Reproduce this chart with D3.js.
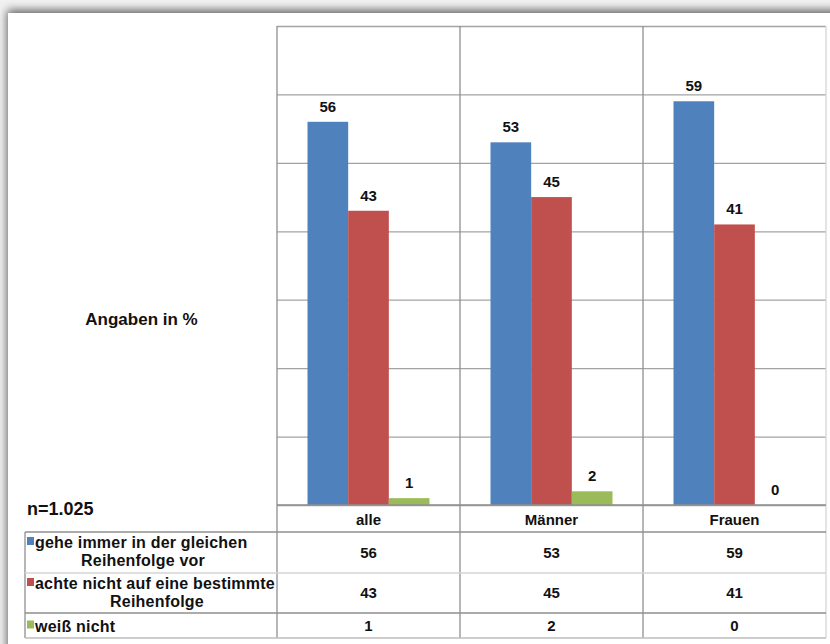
<!DOCTYPE html>
<html>
<head>
<meta charset="utf-8">
<script src="https://cdn.jsdelivr.net/npm/d3@7/dist/d3.min.js"></script>
<style>
  html, body { margin: 0; padding: 0; background: #ffffff; }
  svg { display: block; }
  text { font-family: "Liberation Sans", Arial, sans-serif; font-weight: bold; fill: #111; }
</style>
</head>
<body>
<svg id="chart" width="830" height="644"></svg>
<script>
// Survey groups and answer shares (percent)
const categories = ["alle", "Männer", "Frauen"];
const gleicheReihenfolge = [56, 53, 59];
const keineReihenfolge = [43, 45, 41];
const weissNicht = [1, 2, 0];
const seriesLabels = [
  ["gehe immer in der gleichen", "Reihenfolge vor"],
  ["achte nicht auf eine bestimmte", "Reihenfolge"],
  ["weiß nicht"]
];
const seriesColors = ["#4f81bd", "#c0504d", "#9bbb59"];
const yTicks = [0, 10, 20, 30, 40, 50, 60, 70];
const unitNote = "Angaben in %";
const sampleNote = "n=1.025";

const series = [gleicheReihenfolge, keineReihenfolge, weissNicht];

const svg = d3.select("#chart");

// Card with a soft shadow on the top and left edges
const defs = svg.append("defs");
const f = defs.append("filter").attr("id", "shadow")
  .attr("filterUnits", "userSpaceOnUse")
  .attr("x", -30).attr("y", -30).attr("width", 920).attr("height", 740);
f.append("feDropShadow").attr("dx", -1).attr("dy", -3)
  .attr("stdDeviation", 5).attr("flood-color", "#000").attr("flood-opacity", 0.6);
svg.append("rect").attr("x", 0).attr("y", 0).attr("width", 830).attr("height", 644).attr("fill", "#f2f2f2");
svg.append("rect").attr("x", 8).attr("y", 13).attr("width", 860).attr("height", 680)
  .attr("fill", "#fff").attr("filter", "url(#shadow)");

// Layout
const plotLeft = 277, plotRight = 826, plotTop = 26, baseY = 505;
const tableLeft = 25;
const headerBottom = 532;
const rowBounds = [[532, 573], [573, 613], [613, 638]];
const tableBottom = 638;

const x0 = d3.scaleBand().domain(categories).range([plotLeft, plotRight]).padding(0);
const x1 = d3.scaleBand().domain(d3.range(series.length)).range([0, x0.bandwidth()])
  .paddingInner(0).paddingOuter(0.75);
const y = d3.scaleLinear().domain([0, 70]).range([baseY, plotTop]);

const gridColor = "#a3a3a3";

// Horizontal gridlines via an axis
const gridAxis = d3.axisLeft(y).tickValues(yTicks).tickSize(-(plotRight - plotLeft)).tickFormat("");
const gridG = svg.append("g").attr("transform", `translate(${plotLeft},0)`).call(gridAxis);
gridG.select(".domain").remove();
gridG.selectAll(".tick line").attr("stroke", gridColor).attr("stroke-width", 1.3);

// Bars
const groups = svg.append("g").selectAll("g")
  .data(categories).join("g")
  .attr("transform", d => `translate(${x0(d)},0)`);

groups.selectAll("rect")
  .data((c, ci) => series.map((s, si) => ({ si, v: s[ci] })))
  .join("rect")
  .attr("x", d => x1(d.si))
  .attr("width", x1.bandwidth())
  .attr("y", d => y(d.v))
  .attr("height", d => baseY - y(d.v))
  .attr("fill", d => seriesColors[d.si]);

groups.selectAll("text.val")
  .data((c, ci) => series.map((s, si) => ({ si, v: s[ci] })))
  .join("text")
  .attr("class", "val")
  .attr("x", d => x1(d.si) + x1.bandwidth() / 2)
  .attr("y", d => y(d.v) - 10)
  .attr("text-anchor", "middle")
  .attr("font-size", 15)
  .text(d => d.v);

// Table lines
const lines = svg.append("g");
const boundaries = categories.map(c => x0(c)).concat([plotRight]);
boundaries.forEach((bx, i) => {
  lines.append("line").attr("x1", bx).attr("x2", bx)
    .attr("y1", plotTop).attr("y2", tableBottom)
    .attr("stroke", i === boundaries.length - 1 ? "#d6d6d6" : "#8f8f8f").attr("stroke-width", 1.3);
});
lines.append("line").attr("x1", tableLeft).attr("x2", tableLeft)
  .attr("y1", headerBottom).attr("y2", tableBottom).attr("stroke", "#8f8f8f").attr("stroke-width", 1.3);
[[baseY, plotLeft, "#8f8f8f"], [headerBottom, tableLeft, "#8f8f8f"], [rowBounds[1][0], tableLeft, "#d4d4d4"],
 [rowBounds[2][0], tableLeft, "#8f8f8f"], [tableBottom, tableLeft, "#bdbdbd"]].forEach(([ly, lx, col]) => {
  lines.append("line").attr("x1", lx).attr("x2", plotRight).attr("y1", ly).attr("y2", ly)
    .attr("stroke", col).attr("stroke-width", 1.3);
});

// Category headers
svg.append("g").selectAll("text").data(categories).join("text")
  .attr("x", d => x0(d) + x0.bandwidth() / 2)
  .attr("y", 525)
  .attr("text-anchor", "middle")
  .attr("font-size", 15)
  .text(d => d);

// Value cells
series.forEach((s, si) => {
  const [r0, r1] = rowBounds[si];
  svg.append("g").selectAll("text").data(categories).join("text")
    .attr("x", d => x0(d) + x0.bandwidth() / 2)
    .attr("y", (r0 + r1) / 2 + 5)
    .attr("text-anchor", "middle")
    .attr("font-size", 15)
    .text((d, ci) => s[ci]);
});

// Legend cells
const legendMid = [143, 157];
seriesLabels.forEach((lbl, si) => {
  const [r0, r1] = rowBounds[si];
  const firstBase = lbl.length > 1 ? r0 + 16 : (r0 + r1) / 2 + 6;
  svg.append("rect").attr("x", 27).attr("y", firstBase - 11).attr("width", 7).attr("height", 8)
    .attr("fill", seriesColors[si]);
  svg.append("text").attr("x", 35).attr("y", firstBase)
    .attr("font-size", 16).attr("letter-spacing", 0.2).text(lbl[0]);
  if (lbl.length > 1) {
    svg.append("text").attr("x", legendMid[si]).attr("y", firstBase + 18)
      .attr("text-anchor", "middle").attr("font-size", 16).attr("letter-spacing", 0.2).text(lbl[1]);
  }
});

// Notes
svg.append("text").attr("x", 141.5).attr("y", 325).attr("text-anchor", "middle")
  .attr("font-size", 17).text(unitNote);
svg.append("text").attr("x", 27).attr("y", 515).attr("font-size", 18).text(sampleNote);
</script>
</body>
</html>
